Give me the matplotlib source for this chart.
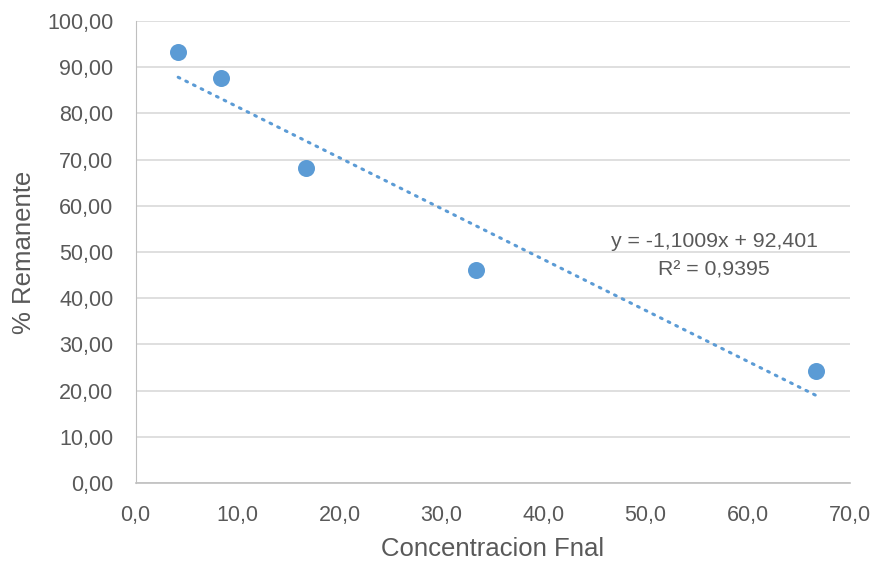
import numpy as np
import matplotlib
matplotlib.use('Agg')
import matplotlib.pyplot as plt

conc = [4.17, 8.33, 16.67, 33.33, 66.67]
remanente = [93.3, 87.7, 68.2, 46.1, 24.2]
slope = -1.1009
intercept = 92.401
eq_text = 'y = -1,1009x + 92,401'
r2_text = 'R² = 0,9395'

blue = '#5B9BD5'
txt = '#595959'

plt.rcParams['font.family'] = ['Liberation Sans', 'DejaVu Sans']

fig = plt.figure(figsize=(8.75, 5.65), dpi=100)
ax = fig.add_axes([0.155, 0.145, 0.816, 0.818])

xt = np.array([conc[0], conc[-1]])
ax.plot(xt, slope * xt + intercept, linestyle=(0, (0.6, 2.2)), dash_capstyle='round',
        color=blue, lw=2.2, zorder=2)
ax.scatter(conc, remanente, s=150, color=blue, zorder=3, linewidths=0)

ax.set_xlim(0, 70)
ax.set_ylim(0, 100)
xticks = np.arange(0, 71, 10)
yticks = np.arange(0, 101, 10)
ax.set_xticks(xticks)
ax.set_yticks(yticks)
ax.set_xticklabels([('%.1f' % v).replace('.', ',') for v in xticks])
ax.set_yticklabels([('%.2f' % v).replace('.', ',') for v in yticks])

ax.grid(axis='y', color='#D9D9D9', lw=1.2)
ax.set_axisbelow(True)
for s in ['top', 'right']:
    ax.spines[s].set_visible(False)
ax.spines['left'].set_color('#BFBFBF')
ax.spines['bottom'].set_color('#BFBFBF')
ax.spines['bottom'].set_linewidth(1.2)
ax.tick_params(length=0, labelsize=15.5, colors=txt, pad=16)

ax.set_xlabel('Concentracion Fnal', fontsize=18.5, color=txt, labelpad=8)
ax.set_ylabel('% Remanente', fontsize=18.5, color=txt, labelpad=8)

ax.text(56.7, 52.2, eq_text, ha='center', va='center', fontsize=15.3, color=txt)
ax.text(56.7, 46.0, r2_text, ha='center', va='center', fontsize=15.3, color=txt)

fig.savefig('out.png', dpi=100)
